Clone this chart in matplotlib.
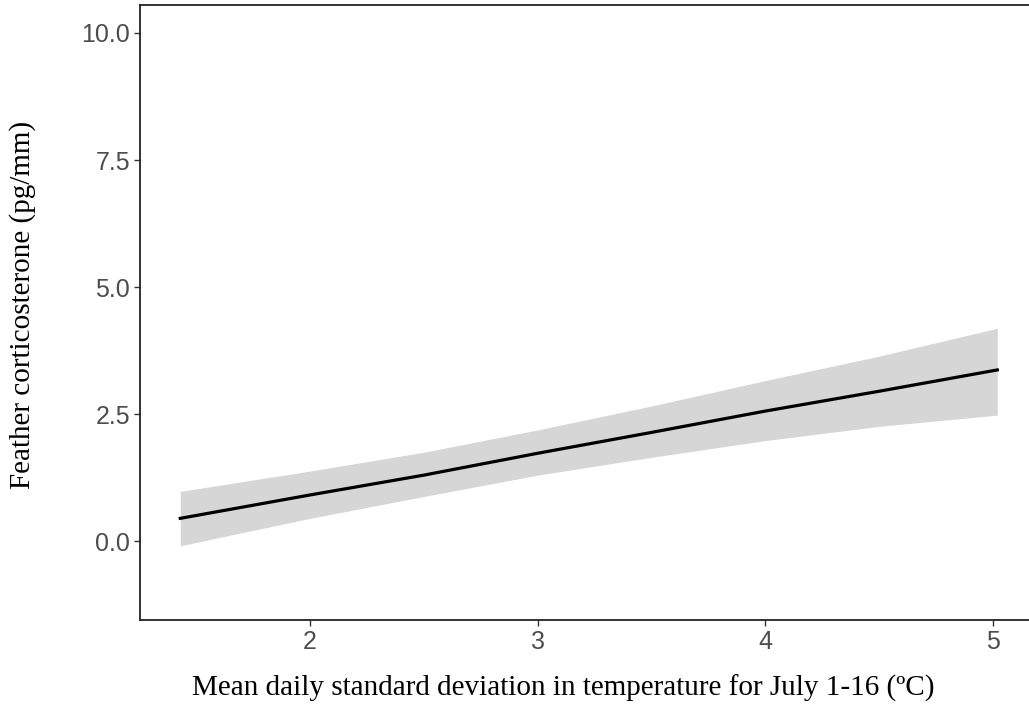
import numpy as np
import matplotlib
matplotlib.use("Agg")
import matplotlib.pyplot as plt

# Predicted feather corticosterone vs. temperature variability, with 95% CI
temp_sd = [1.43, 2.0, 2.5, 3.0, 3.5, 4.0, 4.5, 5.02]
fit = [0.45, 0.91, 1.30, 1.73, 2.14, 2.56, 2.95, 3.37]
upper = [0.98, 1.38, 1.75, 2.19, 2.66, 3.16, 3.64, 4.19]
lower = [-0.09, 0.45, 0.88, 1.30, 1.65, 1.98, 2.26, 2.48]

x_ticks = [2, 3, 4, 5]
y_ticks = [0.0, 2.5, 5.0, 7.5, 10.0]

W, H = 1029, 710
fig = plt.figure(figsize=(W / 100, H / 100), dpi=100)
# panel runs a little past the right edge of the image
ax = fig.add_axes([140 / W, 1 - 620 / H, (1038 - 140) / W, (620 - 5) / H])

ax.fill_between(temp_sd, lower, upper, color="#d6d6d6", linewidth=0)
ax.plot(temp_sd, fit, color="black", linewidth=2.3)

ax.set_xlim(1.253, 5.199)
ax.set_ylim(-1.55, 10.55)
ax.set_xticks(x_ticks)
ax.set_xticklabels([str(t) for t in x_ticks])
ax.set_yticks(y_ticks)
ax.set_yticklabels([f"{t:.1f}" for t in y_ticks])

for lab in ax.get_xticklabels() + ax.get_yticklabels():
    lab.set_fontfamily("Liberation Sans")
    lab.set_fontsize(18)
    lab.set_color("#4d4d4d")
ax.tick_params(length=4, width=1, color="#333333", pad=3)

for side in ["left", "bottom", "top"]:
    ax.spines[side].set_color("#222222")
    ax.spines[side].set_linewidth(1.3)
ax.spines["right"].set_visible(False)

label_font = dict(family="Liberation Serif", size=21, color="black")
fig.text(563 / W, 1 - 688 / H,
         "Mean daily standard deviation in temperature for July 1-16 (ºC)",
         ha="center", va="center", **label_font)
fig.text(23 / W, 1 - 305 / H, "Feather corticosterone (pg/mm)",
         ha="center", va="center", rotation=90, **label_font)

fig.savefig("out.png", dpi=100)
